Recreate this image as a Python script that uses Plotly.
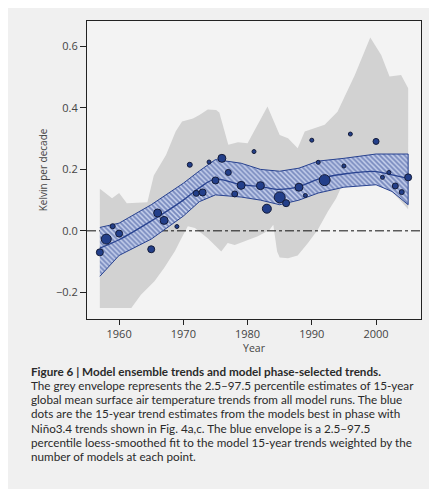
import plotly.graph_objects as go

# Grey envelope: 2.5-97.5 percentile of 15-year trends, all model runs
upper_years = [1957.0, 1958.9, 1960.0, 1961.2, 1964.4, 1965.4, 1967.3, 1968.8, 1969.8,
               1971.5, 1972.5, 1973.8, 1975.1, 1975.6, 1977.0, 1978.5, 1980.0, 1983.1,
               1985.0, 1986.3, 1987.8, 1988.9, 1992.0, 1994.0, 1996.7, 1999.1, 2000.8,
               2002.1, 2003.9, 2005.0]
upper_vals = [0.137, 0.106, 0.123, 0.090, 0.093, 0.180, 0.247, 0.323, 0.356,
              0.366, 0.377, 0.395, 0.393, 0.385, 0.280, 0.288, 0.285, 0.405,
              0.312, 0.301, 0.269, 0.323, 0.345, 0.388, 0.507, 0.629, 0.572,
              0.502, 0.507, 0.464]
lower_years = [1957.0, 1961.9, 1963.4, 1965.5, 1967.0, 1968.7, 1969.7, 1970.7, 1971.8,
               1973.8, 1975.4, 1975.9, 1976.9, 1978.0, 1981.6, 1983.4, 1984.0, 1984.6,
               1985.0, 1986.3, 1987.8, 1989.4, 1990.9, 1992.5, 1993.8, 1994.5, 1996.0,
               1998.0, 2000.0, 2002.0, 2003.5, 2005.0]
lower_vals = [-0.251, -0.251, -0.208, -0.164, -0.121, -0.066, -0.024, 0.015, 0.009,
              -0.024, -0.056, -0.067, -0.040, -0.046, -0.018, 0.003, 0.020, -0.067,
              -0.087, -0.089, -0.080, -0.040, 0.003, 0.063, 0.106, 0.139, 0.175,
              0.165, 0.155, 0.135, 0.105, 0.070]

# Blue envelope: loess-smoothed fit
band_years = [1957, 1960, 1965, 1970, 1972.5, 1975, 1979, 1982, 1985, 1988, 1991,
              1995, 2000, 2002.5, 2005]
band_mid = [-0.056, -0.029, 0.032, 0.100, 0.140, 0.168, 0.150, 0.144, 0.135, 0.144,
            0.168, 0.185, 0.193, 0.182, 0.171]
band_top = [0.011, 0.025, 0.085, 0.155, 0.195, 0.232, 0.220, 0.200, 0.194, 0.204,
            0.227, 0.236, 0.250, 0.250, 0.250]
band_bot = [-0.148, -0.080, -0.027, 0.048, 0.095, 0.117, 0.110, 0.100, 0.085, 0.100,
            0.123, 0.142, 0.150, 0.128, 0.085]

# Blue dots: 15-year trends of models best in phase with Nino3.4
dot_years = [1957, 1958, 1959, 1960, 1965, 1966, 1967, 1969, 1971, 1972, 1973, 1974,
             1975, 1976, 1977, 1978, 1979, 1981, 1982, 1983, 1985, 1986, 1988, 1989,
             1990, 1991, 1992, 1995, 1996, 2000, 2001, 2002, 2003, 2004, 2005]
dot_vals = [-0.070, -0.027, 0.015, -0.009, -0.060, 0.058, 0.034, 0.014, 0.215, 0.122,
            0.125, 0.224, 0.164, 0.236, 0.190, 0.120, 0.148, 0.258, 0.147, 0.072,
            0.109, 0.090, 0.142, 0.115, 0.295, 0.223, 0.165, 0.211, 0.315, 0.291,
            0.174, 0.190, 0.146, 0.126, 0.174]
dot_sizes = [7, 10, 5, 7, 7, 8, 8, 4, 5, 6, 7, 4, 7, 8, 6, 6, 8, 4, 8, 9,
             11, 7, 8, 4, 4, 4, 11, 4, 4, 6, 4, 4, 6, 5, 7]

x_ticks = [1960, 1970, 1980, 1990, 2000]
y_ticks = [-0.2, 0.0, 0.2, 0.4, 0.6]

caption_lines = [
    "<b>Figure 6 | Model ensemble trends and model phase-selected trends.</b>",
    "The grey envelope represents the 2.5–97.5 percentile estimates of 15-year",
    "global mean surface air temperature trends from all model runs. The blue",
    "dots are the 15-year trend estimates from the models best in phase with",
    "Niño3.4 trends shown in Fig. 4a,c. The blue envelope is a 2.5–97.5",
    "percentile loess-smoothed fit to the model 15-year trends weighted by the",
    "number of models at each point.",
]

fig = go.Figure()

# grey envelope
fig.add_trace(go.Scatter(
    x=upper_years + lower_years[::-1],
    y=upper_vals + lower_vals[::-1],
    fill='toself', fillcolor='#d2d2d2',
    line=dict(width=0), mode='lines', hoverinfo='skip', showlegend=False
))

# zero line
fig.add_trace(go.Scatter(
    x=[1955, 2007], y=[0, 0], mode='lines',
    line=dict(color='#111111', width=1, dash='dashdot'),
    hoverinfo='skip', showlegend=False
))

# hatched blue envelope
fig.add_trace(go.Scatter(
    x=band_years + band_years[::-1],
    y=band_top + band_bot[::-1],
    fill='toself', fillcolor='#b9c5e6',
    fillpattern=dict(shape='\\', fgcolor='#28428f', bgcolor='#c6d0ec', size=3.5, solidity=0.55),
    line=dict(color='#28428f', width=1), mode='lines',
    hoverinfo='skip', showlegend=False
))

# centre line
fig.add_trace(go.Scatter(
    x=band_years, y=band_mid, mode='lines',
    line=dict(color='#28428f', width=1.3, shape='spline'),
    hoverinfo='skip', showlegend=False
))

# dots
fig.add_trace(go.Scatter(
    x=dot_years, y=dot_vals, mode='markers',
    marker=dict(size=dot_sizes, color='#233f8a', opacity=1,
                line=dict(color='#141c3a', width=1)),
    showlegend=False
))

# caption
for i, line in enumerate(caption_lines):
    fig.add_annotation(
        text=line, xref='paper', yref='paper',
        x=(22 - 79) / 334, y=(311 - (363 + i * 14.2)) / 298.5,
        xanchor='left', yanchor='middle', showarrow=False, align='left',
        borderpad=0,
        font=dict(family='Lato', size=11.7, color='#2a2a2a')
    )

fig.update_layout(
    width=437, height=489, autosize=False,
    margin=dict(l=79, r=24, t=13, b=178),
    paper_bgcolor='#f0f0f0', plot_bgcolor='#f3f3f3',
    font=dict(family='Open Sans', size=11, color='#444444'),
    showlegend=False
)
fig.update_xaxes(
    range=[1955, 2007], tickvals=x_ticks, ticks='outside', ticklen=5,
    tickcolor='#222222', showline=True, linecolor='#222222', linewidth=1,
    mirror=True, showgrid=False, zeroline=False,
    title=dict(text='Year', font=dict(size=10.5, color='#444444'), standoff=0)
)
fig.update_yaxes(
    range=[-0.287, 0.683], tickvals=y_ticks, tickformat='.1f', ticks='outside',
    ticklen=6, tickcolor='#222222', showline=True, linecolor='#222222', linewidth=1,
    mirror=True, showgrid=False, zeroline=False,
    title=dict(text='Kelvin per decade', font=dict(size=10, color='#444444'), standoff=6)
)

fig.write_html("out.html")
